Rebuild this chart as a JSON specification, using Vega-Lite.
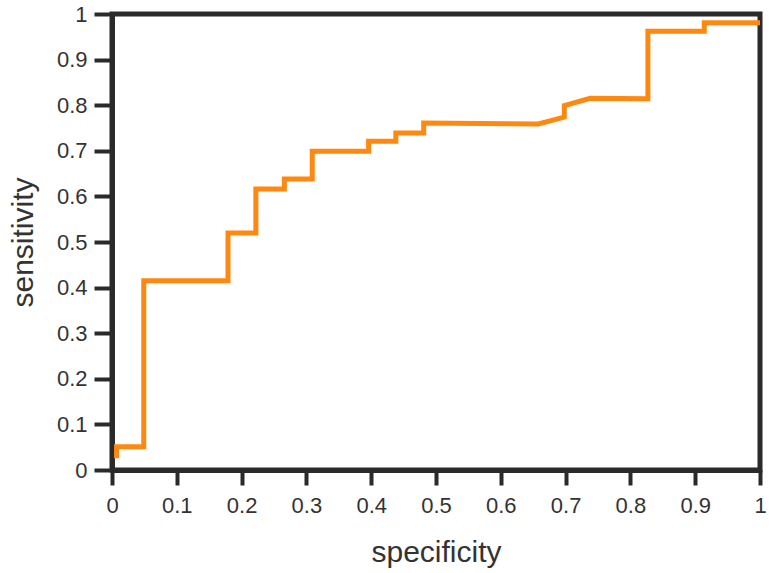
{
  "$schema": "https://vega.github.io/schema/vega-lite/v6.json",
  "width": 648,
  "height": 456,
  "autosize": "none",
  "padding": {"left": 112, "top": 14, "right": 9, "bottom": 103},
  "background": "white",
  "config": {
    "view": {"stroke": "#2a2a2a", "strokeWidth": 5},
    "axis": {
      "labelFont": "Liberation Sans",
      "titleFont": "Liberation Sans",
      "labelFontSize": 22,
      "titleFontSize": 30,
      "titleFontWeight": "normal",
      "labelColor": "#333333",
      "titleColor": "#333333",
      "grid": false,
      "domainColor": "#2a2a2a",
      "domainWidth": 5,
      "tickColor": "#2a2a2a",
      "tickWidth": 4,
      "zindex": 1
    }
  },
  "data": {
    "values": [
      {"i": 1, "specificity": 0.007, "sensitivity": 0.026},
      {"i": 2, "specificity": 0.007, "sensitivity": 0.051},
      {"i": 3, "specificity": 0.049, "sensitivity": 0.051},
      {"i": 4, "specificity": 0.049, "sensitivity": 0.415},
      {"i": 5, "specificity": 0.179, "sensitivity": 0.415},
      {"i": 6, "specificity": 0.179, "sensitivity": 0.52},
      {"i": 7, "specificity": 0.222, "sensitivity": 0.52},
      {"i": 8, "specificity": 0.222, "sensitivity": 0.616},
      {"i": 9, "specificity": 0.266, "sensitivity": 0.616},
      {"i": 10, "specificity": 0.266, "sensitivity": 0.638},
      {"i": 11, "specificity": 0.309, "sensitivity": 0.638},
      {"i": 12, "specificity": 0.309, "sensitivity": 0.699},
      {"i": 13, "specificity": 0.396, "sensitivity": 0.699},
      {"i": 14, "specificity": 0.396, "sensitivity": 0.721},
      {"i": 15, "specificity": 0.438, "sensitivity": 0.721},
      {"i": 16, "specificity": 0.438, "sensitivity": 0.739},
      {"i": 17, "specificity": 0.481, "sensitivity": 0.739},
      {"i": 18, "specificity": 0.481, "sensitivity": 0.761},
      {"i": 19, "specificity": 0.658, "sensitivity": 0.759},
      {"i": 20, "specificity": 0.698, "sensitivity": 0.774},
      {"i": 21, "specificity": 0.698, "sensitivity": 0.799},
      {"i": 22, "specificity": 0.738, "sensitivity": 0.815},
      {"i": 23, "specificity": 0.827, "sensitivity": 0.814},
      {"i": 24, "specificity": 0.827, "sensitivity": 0.962},
      {"i": 25, "specificity": 0.914, "sensitivity": 0.962},
      {"i": 26, "specificity": 0.914, "sensitivity": 0.981},
      {"i": 27, "specificity": 1.0, "sensitivity": 0.981}
    ]
  },
  "mark": {"type": "line", "color": "#ff8811", "strokeWidth": 5, "clip": true},
  "encoding": {
    "order": {"field": "i", "type": "quantitative"},
    "x": {
      "field": "specificity",
      "type": "quantitative",
      "scale": {"domain": [0, 1], "nice": false, "zero": false},
      "axis": {
        "title": "specificity",
        "values": [0, 0.1, 0.2, 0.3, 0.4, 0.5, 0.6, 0.7, 0.8, 0.9, 1],
        "format": "~g",
        "tickSize": 15,
        "labelPadding": 10,
        "titlePadding": 21,
        "labelFlush": false
      }
    },
    "y": {
      "field": "sensitivity",
      "type": "quantitative",
      "scale": {"domain": [0, 1], "nice": false, "zero": false},
      "axis": {
        "title": "sensitivity",
        "values": [0, 0.1, 0.2, 0.3, 0.4, 0.5, 0.6, 0.7, 0.8, 0.9, 1],
        "format": "~g",
        "tickSize": 18,
        "labelPadding": 7,
        "titlePadding": 18,
        "labelFlush": false
      }
    }
  }
}
